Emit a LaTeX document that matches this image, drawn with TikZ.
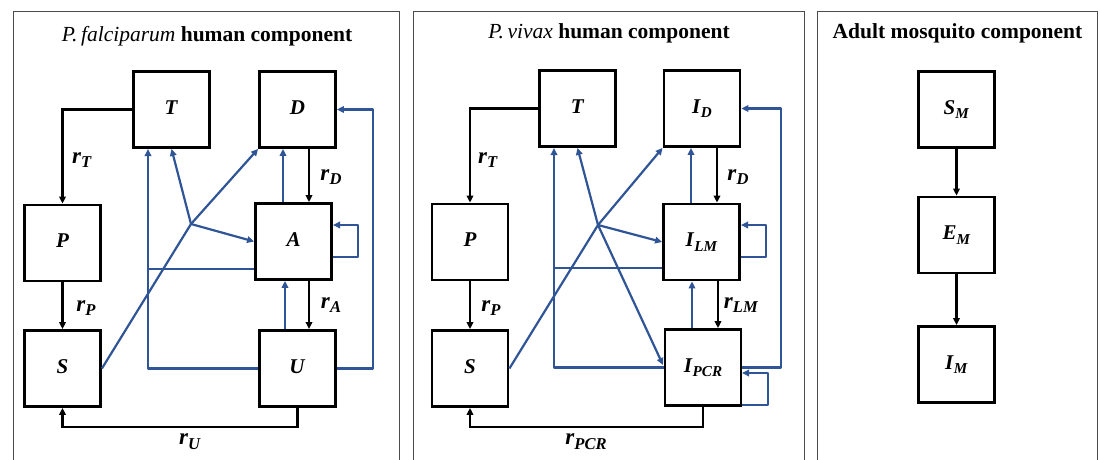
\documentclass[tikz,border=0pt]{standalone}
\usepackage{fontspec}
\setmainfont{Liberation Serif}
\usepackage{graphicx}
\usetikzlibrary{arrows.meta}
\definecolor{flowblue}{RGB}{47,85,151}
% compartment symbol: bold italic letter with a bold italic subscript
\newcommand{\cmp}[2]{\textbf{\textit{#1}}\raisebox{-0.45ex}{\scalebox{0.72}{\textbf{\textit{#2}}}}}
\tikzset{
  box/.style={draw, line width=2.8pt, minimum width=76pt, minimum height=76pt,
    inner sep=0pt, font=\fontsize{21}{24}\selectfont},
  flow/.style={draw, line width=2.2pt, -{Triangle[length=7pt,width=6.5pt]}},
  link/.style={draw=flowblue, line width=2.2pt, line join=round, -{Triangle[length=7pt,width=6.5pt]}},
  plain/.style={draw=flowblue, line width=2.2pt, line join=round},
  rate/.style={font=\fontsize{23}{26}\selectfont, inner sep=0pt},
  panel/.style={draw=black!70, line width=0.9pt},
  title/.style={font=\fontsize{21.5}{24}\selectfont, inner sep=0pt},
}
\begin{document}
\begin{tikzpicture}[x=1pt,y=-1pt]
\useasboundingbox (0,0) rectangle (1100,460);

% panel frames
\draw[panel] (13,472) -- (13,11) -- (399,11) -- (399,472);
\draw[panel] (413,472) -- (413,11) -- (804,11) -- (804,472);
\draw[panel] (817,472) -- (817,11) -- (1097,11) -- (1097,472);

% ---------------- P. falciparum ----------------
\node[title] (t1) at (207,36) {\textit{P.\,falciparum} \textbf{human component}};
\node[box] (T1) at (171.5,109.5) {\cmp{T}{}};
\node[box] (D1) at (297.5,109.5) {\cmp{D}{}};
\node[box] (P1) at (62.5,243) {\cmp{P}{}};
\node[box] (A1) at (293.5,241.5) {\cmp{A}{}};
\node[box] (S1) at (62.5,368.5) {\cmp{S}{}};
\node[box] (U1) at (297.5,368.5) {\cmp{U}{}};

\coordinate (J1) at (191,224);
\coordinate (d1o) at (309,149);
\coordinate (u1o) at (309,329);
\coordinate (a1o) at (283,202);
\coordinate (u1b) at (285,329);
\coordinate (col1) at (148,149);
\coordinate (a1l) at (254,269);
\coordinate (u1r) at (373,368.5);
\coordinate (a1r) at (333,257);
\coordinate (a1i) at (333,225);
\coordinate (u1d) at (297.5,427);

% black flows
\draw[flow] (T1.west) -| (P1.north);
\draw[flow] (d1o) -- (d1o |- A1.north);
\draw[flow] (P1.south) -- (S1.north);
\draw[flow] (u1o |- A1.south) -- (u1o);
\draw[flow] (U1.south) -- (u1d) -| (S1.south);
\node[rate] (rT1) at (82,160) {\cmp{r}{T}};
\node[rate] (rD1) at (331,177) {\cmp{r}{D}};
\node[rate] (rP1) at (86,308) {\cmp{r}{P}};
\node[rate] (rA1) at (331,305) {\cmp{r}{A}};
\node[rate] (rU1) at (190,442) {\cmp{r}{U}};

% blue links
\draw[plain] (S1.east) -- (J1);
\draw[link] (J1) -- (D1.south west);
\draw[link] (J1) -- (T1.south);
\draw[link] (J1) -- (A1.west);
\draw[link] (U1.west) -| (col1);
\draw[plain] (a1l) -- (a1l -| col1);
\draw[link] (u1b) -- (u1b |- A1.south);
\draw[link] (a1o) -- (a1o |- D1.south);
\draw[link] (U1.east) -- (u1r) |- (D1.east);
\draw[link] (a1r) -- ++(25,0) -- ++(0,-32) -- (a1i);

% ---------------- P. vivax ----------------
\node[title] (t2) at (609,33) {\textit{P.\,vivax} \textbf{human component}};
\node[box] (T2) at (577.5,108.5) {\cmp{T}{}};
\node[box] (ID) at (702,108.5) {\cmp{I}{D}};
\node[box] (P2) at (470,242) {\cmp{P}{}};
\node[box] (ILM) at (701.5,242) {\cmp{I}{LM}};
\node[box] (S2) at (470,368.5) {\cmp{S}{}};
\node[box] (IPCR) at (703,367.5) {\cmp{I}{PCR}};

\coordinate (J2) at (598,225);
\coordinate (d2o) at (717,148);
\coordinate (l2o) at (718,281);
\coordinate (p2b) at (692,328);
\coordinate (l2b) at (691,203);
\coordinate (col2) at (554,148);
\coordinate (l2l) at (662,268);
\coordinate (p2in) at (663,365);
\coordinate (p2r) at (781,367.5);
\coordinate (l2r) at (741,257);
\coordinate (l2i) at (741,225);
\coordinate (p2c) at (742,405);
\coordinate (p2i) at (742,373);
\coordinate (p2d) at (703,427);

% black flows
\draw[flow] (T2.west) -| (P2.north);
\draw[flow] (d2o) -- (d2o |- ILM.north);
\draw[flow] (P2.south) -- (S2.north);
\draw[flow] (l2o) -- (l2o |- IPCR.north);
\draw[flow] (IPCR.south) -- (p2d) -| (S2.south);
\node[rate] (rT2) at (488,160) {\cmp{r}{T}};
\node[rate] (rD2) at (738,177) {\cmp{r}{D}};
\node[rate] (rP2) at (491,308) {\cmp{r}{P}};
\node[rate] (rL2) at (741,305) {\cmp{r}{LM}};
\node[rate] (rR2) at (586,442) {\cmp{r}{PCR}};

% blue links
\draw[plain] (S2.east) -- (J2);
\draw[link] (J2) -- (ID.south west);
\draw[link] (J2) -- (T2.south);
\draw[link] (J2) -- (ILM.west);
\draw[link] (J2) -- (p2in);
\draw[link] (IPCR.west) -| (col2);
\draw[plain] (l2l) -- (l2l -| col2);
\draw[link] (p2b) -- (p2b |- ILM.south);
\draw[link] (l2b) -- (l2b |- ID.south);
\draw[link] (IPCR.east) -- (p2r) |- (ID.east);
\draw[link] (l2r) -- ++(25,0) -- ++(0,-32) -- (l2i);
\draw[link] (p2c) -- ++(26,0) -- ++(0,-32) -- (p2i);

% ---------------- mosquito ----------------
\node[title] (t3) at (957.5,33) {\textbf{Adult mosquito component}};
\node[box] (SM) at (956.5,109.5) {\cmp{S}{M}};
\node[box] (EM) at (956.5,235) {\cmp{E}{M}};
\node[box] (IM) at (956.5,364.5) {\cmp{I}{M}};
\draw[flow] (SM.south) -- (EM.north);
\draw[flow] (EM.south) -- (IM.north);
\end{tikzpicture}
\end{document}
